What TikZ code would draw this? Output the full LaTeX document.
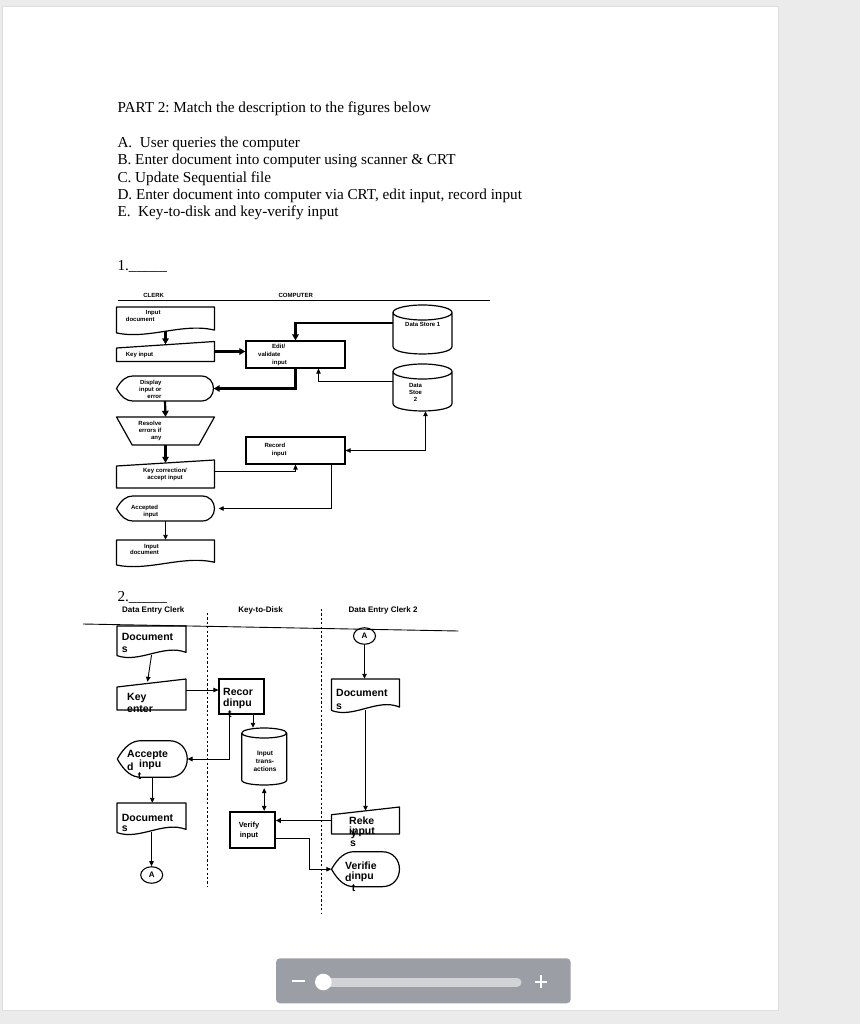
\documentclass[tikz,border=0pt]{standalone}
\usepackage{fontspec}
\setmainfont{Liberation Serif}
\setsansfont{Liberation Sans}
\frenchspacing
\usetikzlibrary{arrows.meta,shapes.geometric}
\definecolor{deskgray}{RGB}{235,235,235}
\definecolor{slidergray}{RGB}{155,158,164}
\definecolor{trackgray}{RGB}{209,211,214}
% outlines round a holder node: #1 node, #2 half width, #3 half height
\def\docshape#1#2#3{\draw[shp,shift={(#1.center)}] (-#2,-#3) -- (#2,-#3) -- (#2,0.65*#3) .. controls (0.35*#2,0.1*#3) and (-0.35*#2,1.35*#3) .. (-#2,0.85*#3) -- cycle;}
\def\manshape#1#2#3#4{\draw[shp,shift={(#1.center)}] (-#2,-#3+#4) -- (#2,-#3) -- (#2,#3) -- (-#2,#3) -- cycle;}
\def\disshape#1#2#3{\draw[shp,shift={(#1.center)}] (-#2,0) .. controls (-#2+0.4*#3,-0.7*#3) and (-#2+0.8*#3,-#3) .. (-#2+1.3*#3,-#3) -- (#2-#3,-#3) .. controls (#2+0.33*#3,-#3) and (#2+0.33*#3,#3) .. (#2-#3,#3) -- (-#2+1.3*#3,#3) .. controls (-#2+0.8*#3,#3) and (-#2+0.4*#3,0.7*#3) .. (-#2,0) -- cycle;}
\def\trapshape#1#2#3{\draw[shp,shift={(#1.center)}] (-#2,-#3) -- (#2,-#3) -- (0.68*#2,#3) -- (-0.68*#2,#3) -- cycle;}
\def\cylshape#1#2#3#4{\draw[shp,shift={(#1.center)}] (0,-#3+#4) ellipse [x radius=#2, y radius=#4] (-#2,-#3+#4) -- (-#2,#3-#4) .. controls (-#2,#3+0.33*#4) and (#2,#3+0.33*#4) .. (#2,#3-#4) -- (#2,-#3+#4);}
\tikzset{
  shp/.style={line width=1.2pt, line join=round},
  hold/.style 2 args={minimum width=#1pt, minimum height=#2pt, inner sep=0pt},
  procbox/.style={draw, line width=1.2pt, inner sep=0pt},
  circA/.style={draw, ellipse, line width=1.1pt, minimum width=22pt, minimum height=16.5pt, inner sep=0pt, font=\sffamily\bfseries\fontsize{8}{9}\selectfont},
  lnk/.style={line width=0.9pt, -{Triangle[length=5pt,width=4.5pt]}},
  bilnk/.style={line width=0.9pt, {Triangle[length=5pt,width=4.5pt]}-{Triangle[length=5pt,width=4.5pt]}},
  fatlnk/.style={line width=2.2pt, -{Triangle[length=6pt,width=6.5pt]}},
  midlnk/.style={line width=1.6pt, -{Triangle[length=5pt,width=5pt]}},
  sep/.style={line width=1.5pt, dash pattern=on 2.2pt off 2.2pt},
  t6/.style={font=\sffamily\bfseries\fontsize{6}{7}\selectfont, inner sep=0pt},
  lane/.style={font=\sffamily\bfseries\fontsize{8}{9}\selectfont, inner sep=0pt, anchor=base},
  t10/.style={font=\sffamily\bfseries\fontsize{10.5}{13}\selectfont, inner sep=0pt, align=left, anchor=north west},
  serif/.style={inner sep=0pt, font=\fontsize{15.2}{17.05}\selectfont}
}
\begin{document}
\begin{tikzpicture}[x=1pt,y=-1pt]
\useasboundingbox (0,0) rectangle (860,1024);
\fill[deskgray] (0,0) rectangle (860,1024);
\fill[black!8] (0.5,5.5) rectangle (780,1012);
\fill[black!13] (1.5,6.3) rectangle (778.8,1010.6);
\fill[white] (2.5,7) rectangle (777.7,1009.5);

\node[serif, anchor=base west] (title) at (117.3,112.7) {PART 2: Match the description to the figures below};
\node[serif, anchor=north west, align=left] (choices) at (117.3,137.2) {A.~ User queries the computer\\B. Enter document into computer using scanner \& CRT\\C. Update Sequential file\\D. Enter document into computer via CRT, edit input, record input\\E.~ Key-to-disk and key-verify input};
\node[serif, anchor=base west] (q1) at (117.3,270) {1.\_\_\_\_\_};
\node[serif, anchor=base west] (q2) at (117.3,601) {2.\_\_\_\_\_};

\node[t6, anchor=base] (clerk-t) at (153.7,297.3) {CLERK};
\node[t6, anchor=base] (comp-t) at (295.8,297.3) {COMPUTER};
\draw[line width=0.9pt] (118,300) -- (490,300);

\node[hold={98}{28}] (indoc1) at (165.5,321) {};
\docshape{indoc1}{49}{14}
\node[hold={98}{20}] (keyin) at (165.5,351.5) {};
\manshape{keyin}{49}{10}{6.5}
\node[procbox, minimum width=99pt, minimum height=27pt] (edit) at (295.5,354.5) {};
\node[hold={59}{49}] (ds1) at (422.5,329.5) {};
\cylshape{ds1}{29.5}{24.5}{7.5}
\node[hold={59}{47}] (ds2) at (422.5,387.5) {};
\cylshape{ds2}{29.5}{23.5}{7.5}
\node[hold={97}{25}] (disp) at (165,388.5) {};
\disshape{disp}{48.5}{12.5}
\node[hold={98}{28}] (resolve) at (165.5,431) {};
\trapshape{resolve}{49}{14}
\node[hold={98}{28}] (keycorr) at (165.5,474) {};
\manshape{keycorr}{49}{14}{6}
\node[procbox, minimum width=99pt, minimum height=27pt] (record) at (295.5,450.5) {};
\node[hold={98}{25}] (accepted) at (165.5,508.5) {};
\disshape{accepted}{49}{12.5}
\node[hold={98}{27}] (indoc2) at (165.5,553.5) {};
\docshape{indoc2}{49}{13.5}

\node[t6, align=left, anchor=north west] (indoc1-t) at (125.7,310) {\hspace*{20pt}Input\\document};
\node[t6, anchor=base west] (keyin-t) at (125.7,356) {Key input};
\node[t6, align=left, anchor=north west] (edit-t) at (258,343.5) {\hspace*{14pt}Edit/\\[1pt]validate\\[1pt]\hspace*{14pt}input};
\node[t6, anchor=base west] (ds1-t) at (405,326.5) {Data Store 1};
\node[t6, align=center, anchor=north] (ds2-t) at (415.5,383) {Data\\Stoe\\2};
\node[t6, align=right, anchor=north east] (disp-t) at (161.7,380) {Display\\input or\\error};
\node[t6, align=right, anchor=north east] (resolve-t) at (161.7,421) {Resolve\\errors if\\any};
\node[t6, align=center, anchor=north] (keycorr-t) at (165,468) {Key correction/\\accept input};
\node[t6, align=left, anchor=north west] (record-t) at (264.3,443) {Record\\[1pt]\hspace*{7.4pt}input};
\node[t6, align=right, anchor=north east] (accepted-t) at (158.3,505) {Accepted\\input};
\node[t6, align=right, anchor=north east] (indoc2-t) at (159,544) {Input\\[-1pt]document};

\draw[fatlnk] ([yshift=4pt]indoc1.south) -- ([yshift=-3pt]keyin.north);
\draw[fatlnk] (keyin.east) -- (keyin.east -| edit.west);
\draw[fatlnk] ([yshift=6.5pt]ds1.west) -| (edit.north);
\draw[lnk] ([yshift=6.5pt]ds2.west) -| ([xshift=23pt]edit.south);
\draw[fatlnk] (edit.south) |- (disp.east);
\draw[fatlnk] (disp.south) -- (resolve.north);
\draw[fatlnk] (resolve.south) -- ([yshift=-3pt]keycorr.north);
\draw[lnk] ([yshift=3pt]keycorr.east) -| (record.south);
\draw[bilnk] (record.east) -| ([xshift=3pt]ds2.south);
\draw[lnk, shorten >=4pt] ([xshift=36pt]record.south) |- (accepted.east);
\draw[lnk] (accepted.south) -- (indoc2.north);

\node[lane] (lane1) at (153.3,612) {Data Entry Clerk};
\node[lane] (lane2) at (260.5,612) {Key-to-Disk};
\node[lane] (lane3) at (383,612) {Data Entry Clerk 2};
\draw[line width=0.9pt] (83,624) -- (458.3,631);
\draw[sep] (207.3,613) -- (207.3,886.7);
\draw[sep] (321.7,609) -- (321.7,913);

\node[hold={69}{32}] (docs1) at (151.5,642) {};
\docshape{docs1}{34.5}{16}
\node[hold={69}{31}] (keyenter) at (151.5,694.5) {};
\manshape{keyenter}{34.5}{15.5}{8}
\node[procbox, minimum width=45pt, minimum height=35pt] (recbox) at (241.5,696.5) {};
\node[hold={70}{36.6}] (accepted2) at (152.3,759) {};
\disshape{accepted2}{35}{18.3}
\node[hold={69}{32}] (docs2) at (151.5,819) {};
\docshape{docs2}{34.5}{16}
\node[circA] (circA1) at (151.7,875) {A};
\node[hold={45}{57}] (inputtr) at (264.2,756.5) {};
\cylshape{inputtr}{22.5}{28.5}{5}
\node[procbox, line width=1.8pt, minimum width=45pt, minimum height=36.5pt] (verify) at (252.5,830) {};
\node[circA] (circA2) at (364.5,636) {A};
\node[hold={68}{34}] (docs3) at (365.5,696) {};
\docshape{docs3}{34}{17}
\node[hold={68}{27}] (rekeys) at (365.5,820.5) {};
\manshape{rekeys}{34}{13.5}{7.7}
\node[hold={68}{35}] (verified) at (365.5,869.2) {};
\disshape{verified}{34}{17.5}

\node[t10] (docs1-t) at (121.7,633) {Document\\[-0.7pt]s};
\node[t10] (keyenter-t) at (127,693) {Key\\[-1pt]enter};
\node[t10] (recbox-t) at (223,688) {Recor\\[-2pt]dinpu\\[-2pt]\hspace*{5pt}t};
\node[t10] (accepted2-t) at (127,750) {Accepte\\[-3pt]\raisebox{-3pt}{d}\hspace*{5.5pt}inpu\\[-1pt]\hspace*{10.7pt}t};
\node[t10] (docs2-t) at (121.7,814) {Document\\[-3pt]s};
\node[t10] (docs3-t) at (336,689) {Document\\s};
\node[t6, font=\sffamily\bfseries\fontsize{6.5}{8}\selectfont, align=center, anchor=north] (inputtr-t) at (265,751) {Input\\trans-\\actions};
\node[t6, font=\sffamily\bfseries\fontsize{7.5}{10}\selectfont, align=center, anchor=north] (verify-t) at (249,822) {Verify\\input};
\node[t10] (rekeys-t) at (349,817) {Reke\\[-3.5pt]\rlap{\raisebox{-2.5pt}{\hspace*{1.7pt}y}}input\\[-0.5pt]\hspace*{1pt}s};
\node[t10] (verified-t) at (345,862) {Verifie\\[-3.6pt]\raisebox{-2.2pt}{d}inpu\\[-1pt]\hspace*{6.7pt}t};

\draw[lnk] ([yshift=3pt]docs1.south) -- ([shift={(-4pt,-3pt)}]keyenter.north);
\draw[lnk] ([yshift=4.5pt]keyenter.east) -- ([yshift=4.5pt]keyenter.east -| recbox.west);
\draw[lnk] ([xshift=-12.5pt]recbox.south) |- (accepted2.east);
\draw[lnk] ([xshift=11.5pt]recbox.south) -- ([xshift=11.5pt]recbox.south |- inputtr.north);
\draw[bilnk] ([yshift=-3pt]inputtr.south) -- (inputtr.south |- verify.north);
\draw[midlnk] (rekeys.west) -- (rekeys.west -| verify.east);
\draw[lnk] ([yshift=-8.3pt]verify.east) -- ++(33.3,0) |- (verified.west);
\draw[lnk] (circA2.south) -- (circA2.south |- docs3.north);
\draw[lnk] ([yshift=3pt]docs3.south) -- ([yshift=-4pt]rekeys.north);
\draw[lnk] (accepted2.south) -- (accepted2.south |- docs2.north);
\draw[lnk] ([yshift=3pt]docs2.south) -- (docs2.south |- circA1.north);

\fill[slidergray, rounded corners=4pt] (276,958.3) rectangle (570.7,1003.3);
\draw[trackgray, line width=9pt, line cap=round] (322,982) -- (517,982);
\fill[white] (323.3,982) circle (8.3);
\draw[white, line width=2pt] (291.7,981) -- (304.5,981);
\draw[white, line width=2pt] (534.5,981.5) -- (547,981.5) (540.7,975) -- (540.7,988);
\end{tikzpicture}
\end{document}
